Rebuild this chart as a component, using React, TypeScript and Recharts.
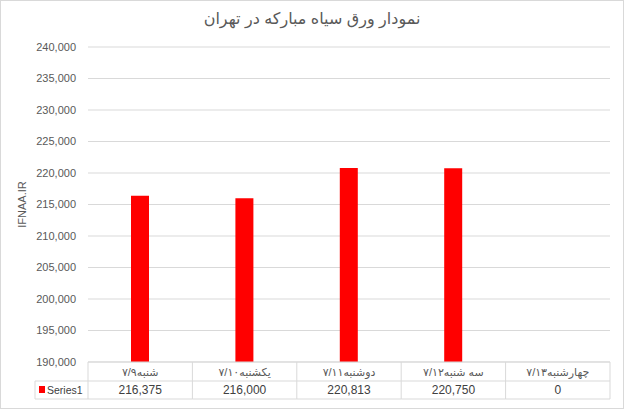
import { BarChart, Bar, XAxis, YAxis, CartesianGrid, Label } from "recharts"

const title = "نمودار ورق سیاه مبارکه در تهران"
const categories = ["شنبه۷/۹", "یکشنبه۷/۱۰", "دوشنبه۷/۱۱", "سه شنبه۷/۱۲", "چهارشنبه۷/۱۳"]
const series1 = [216375, 216000, 220813, 220750, 0]
const seriesName = "Series1"
const yTicks = [190000, 195000, 200000, 205000, 210000, 215000, 220000, 225000, 230000, 235000, 240000]
const yLabel = "IFNAA.IR"

const data = categories.map((c, i) => ({ name: c, value: series1[i] > 0 ? series1[i] : null }))

const fmt = (v: number) => v.toLocaleString("en-US")

const GRID = "#d9d9d9"
const TEXT = "#595959"
const FONT = "Liberation Sans, DejaVu Sans, sans-serif"
const COL_W = 522 / categories.length

function TableTick(props: any) {
  const { x, y, index } = props
  const left = x - COL_W / 2
  const right = x + COL_W / 2
  const last = index === categories.length - 1
  return (
    <g>
      <line x1={left} y1={y} x2={left} y2={y + 37} stroke={GRID} />
      {last && <line x1={right} y1={y} x2={right} y2={y + 37} stroke={GRID} />}
      <line x1={left} y1={y + 19} x2={right} y2={y + 19} stroke={GRID} />
      <line x1={left} y1={y + 37} x2={right} y2={y + 37} stroke={GRID} />
      <text x={x} y={y + 14} textAnchor="middle" fontSize={11} fill={TEXT} fontFamily={FONT}>{categories[index]}</text>
      <text x={x} y={y + 32} textAnchor="middle" fontSize={12} fill="#404040" fontFamily={FONT}>{fmt(series1[index])}</text>
      {index === 0 && (
        <g>
          <line x1={35} y1={y + 19} x2={left} y2={y + 19} stroke={GRID} />
          <line x1={35} y1={y + 37} x2={left} y2={y + 37} stroke={GRID} />
          <line x1={35} y1={y + 19} x2={35} y2={y + 37} stroke={GRID} />
          <rect x={39} y={y + 24} width={6} height={7} fill="#ff0000" />
          <text x={47} y={y + 32} fontSize={10.5} fill="#404040" fontFamily={FONT}>{seriesName}</text>
        </g>
      )}
    </g>
  )
}

export default function App() {
  return (
    <div style={{ position: "absolute", left: 0, top: 0, width: 624, height: 409, background: "#fff" }}>
      <div style={{ position: "absolute", left: 0, top: 0, width: 622, height: 407, border: "1px solid #d9d9d9" }} />
      <div style={{ position: "absolute", left: 0, top: 9, width: 624, textAlign: "center", fontSize: 16, color: TEXT, fontFamily: FONT }}>
        {title}
      </div>
      <div style={{ position: "absolute", left: 0, top: 0 }}>
        <BarChart width={624} height={409} data={data} margin={{ top: 47, right: 14, bottom: 10, left: 30 }}>
          <CartesianGrid vertical={false} stroke={GRID} />
          <XAxis dataKey="name" height={37} axisLine={{ stroke: GRID }} tickLine={false} tickSize={0} tickMargin={0} tick={<TableTick />} interval={0} />
          <YAxis width={58} domain={[190000, 240000]} ticks={yTicks} allowDataOverflow axisLine={false} tickLine={false} tickSize={0} tickMargin={12} tickFormatter={fmt} tick={{ fontSize: 11, fill: TEXT, fontFamily: FONT }}>
            <Label value={yLabel} angle={-90} position="insideLeft" offset={-8} style={{ textAnchor: "middle", fontSize: 11, fill: TEXT, fontFamily: FONT }} />
          </YAxis>
          <Bar dataKey="value" fill="#ff0000" barSize={18} isAnimationActive={false} />
        </BarChart>
      </div>
    </div>
  )
}
